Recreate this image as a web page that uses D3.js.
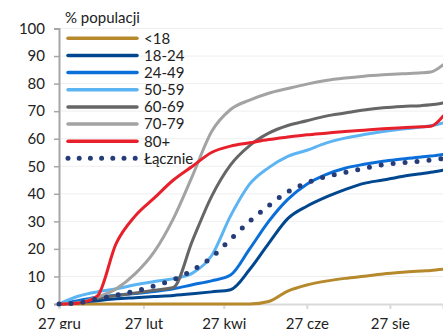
<!DOCTYPE html>
<html>
<head>
<meta charset="utf-8">
<script src="https://cdn.jsdelivr.net/npm/d3@7"></script>
<style>
  body { margin: 0; background: #fff; }
  svg { display: block; font-family: Lato, "Open Sans", sans-serif; }
</style>
</head>
<body>
<svg width="443" height="329"></svg>
<script>
const dates = ["2020-12-27","2021-01-10","2021-01-24","2021-02-07","2021-02-21","2021-03-07",
  "2021-03-21","2021-04-04","2021-04-18","2021-05-02","2021-05-16","2021-05-30","2021-06-13",
  "2021-06-27","2021-07-11","2021-07-25","2021-08-08","2021-08-22","2021-09-05","2021-09-19",
  "2021-09-26","2021-10-05"]

const under18 = [0,0,0,0,0,0,0,0,0,0,0,0.9,4.7,6.9,8.3,9.3,10.1,10.9,11.5,12,12.2,12.6]
const age18_24 = [0,0.5,1.2,1.9,2.3,2.7,3.1,3.7,4.4,5.2,12.5,22,31,35.5,38.8,41.5,43.8,45,46.3,47.3,47.8,48.6]
const age24_49 = [0,1.2,2.5,3.2,3.8,4.5,5.5,7,8.4,10.5,20,30,38,43.5,47,49.3,50.7,51.8,52.6,53.4,53.7,54.3]
const age50_59 = [0,2.8,4.4,5.5,7,8.2,9.2,11.2,17.5,32,43.5,49.5,53.6,55.8,58.4,60.2,61.5,62.6,63.5,64.2,64.7,65.7]
const age60_69 = [0,0.5,2,3,4,5,6,23,39,50.5,57.5,62,64.8,66.5,68.2,69.3,70.4,71.2,71.7,72,72.3,73]
const age70_79 = [0,0.5,2.5,5.5,11,19,31,46.5,62.5,70.6,74,76.5,78.2,79.8,81.1,82,82.7,83.2,83.6,83.9,84.2,86.8]
const age80 = [0,0.3,2.8,22,32,38.5,45,50,55,57.3,58.5,59.7,60.6,61.4,62,62.6,63.1,63.6,64,64.3,64.5,68.2]
const total = [0,0.4,1.8,3.2,4.7,6.6,8.8,12.3,16.9,23.5,30,35.7,40.7,44,46.2,47.7,49.2,50.6,51.3,51.9,52.2,52.8]

const seriesNames = ["<18","18-24","24-49","50-59","60-69","70-79","80+","Łącznie"]
const seriesValues = [under18, age18_24, age24_49, age50_59, age60_69, age70_79, age80, total]
const colors = ["#B5892C","#00478F","#0A6FD8","#5CB4F3","#666666","#A3A3A3","#E8202B","#253C78"]

const xTickDates = ["2020-12-27","2021-02-27","2021-04-27","2021-06-27","2021-08-27"]
const xTickLabels = ["27 gru","27 lut","27 kwi","27 cze","27 sie"]
const yTicks = [0,10,20,30,40,50,60,70,80,90,100]

const parse = d3.timeParse("%Y-%m-%d")
const svg = d3.select("svg")

const x = d3.scaleTime()
  .domain([parse("2020-12-27"), parse("2021-10-05")])
  .range([59, 443])

const y = d3.scaleLinear()
  .domain([0, 100])
  .range([304, 28.5])

// grid
svg.append("g")
  .selectAll("line")
  .data(yTicks.slice(1))
  .enter()
  .append("line")
    .attr("x1", 59).attr("x2", 443)
    .attr("y1", d => y(d)).attr("y2", d => y(d))
    .attr("stroke", "#EFEFEF")
    .attr("stroke-width", 1)

// x axis
const xAxis = svg.append("g")
  .attr("transform", "translate(0," + y(0) + ")")
  .call(d3.axisBottom(x)
    .tickValues(xTickDates.map(parse))
    .tickFormat((d, i) => xTickLabels[i])
    .tickSize(5)
    .tickPadding(9))
xAxis.select(".domain").attr("stroke", "#D9D9D9").attr("stroke-width", 2)
xAxis.selectAll(".tick line").attr("stroke", "#D9D9D9").attr("stroke-width", 2)
xAxis.selectAll("text").attr("font-size", 15).attr("fill", "#222").attr("font-family", "Lato, sans-serif")

// y axis
const yAxis = svg.append("g")
  .attr("transform", "translate(59,0)")
  .call(d3.axisLeft(y)
    .tickValues(yTicks)
    .tickSize(5)
    .tickPadding(9))
yAxis.select(".domain").attr("stroke", "#A6A6A6").attr("stroke-width", 2)
yAxis.selectAll(".tick line").attr("stroke", "#A6A6A6").attr("stroke-width", 1.5)
yAxis.selectAll("text").attr("font-size", 15).attr("fill", "#222").attr("font-family", "Lato, sans-serif")

const line = d3.line()
  .x((d, i) => x(parse(dates[i])))
  .y(d => y(d))
  .curve(d3.curveMonotoneX)

seriesValues.forEach((vals, i) => {
  const dotted = i === seriesValues.length - 1
  svg.append("path")
    .datum(vals)
    .attr("d", line)
    .attr("fill", "none")
    .attr("stroke", colors[i])
    .attr("stroke-width", dotted ? 5 : 3)
    .attr("stroke-linecap", "round")
    .attr("stroke-linejoin", "round")
    .attr("stroke-dasharray", dotted ? "0,12" : null)
})

// legend
svg.append("text")
  .attr("x", 65).attr("y", 23)
  .attr("font-size", 15)
  .attr("fill", "#222")
  .text("% populacji")

const legend = svg.append("g")
  .selectAll("g")
  .data(seriesNames)
  .enter()
  .append("g")
    .attr("transform", (d, i) => "translate(0," + (38.3 + i * 17.15) + ")")

legend.append("line")
  .attr("x1", 68).attr("x2", 137)
  .attr("stroke", (d, i) => colors[i])
  .attr("stroke-width", (d, i) => i === seriesNames.length - 1 ? 5 : 3.5)
  .attr("stroke-linecap", "round")
  .attr("stroke-dasharray", (d, i) => i === seriesNames.length - 1 ? "0,11.2" : null)

legend.append("text")
  .attr("x", 144)
  .attr("dy", "0.36em")
  .attr("font-size", 15)
  .attr("fill", "#222")
  .text(d => d)
</script>
</body>
</html>
